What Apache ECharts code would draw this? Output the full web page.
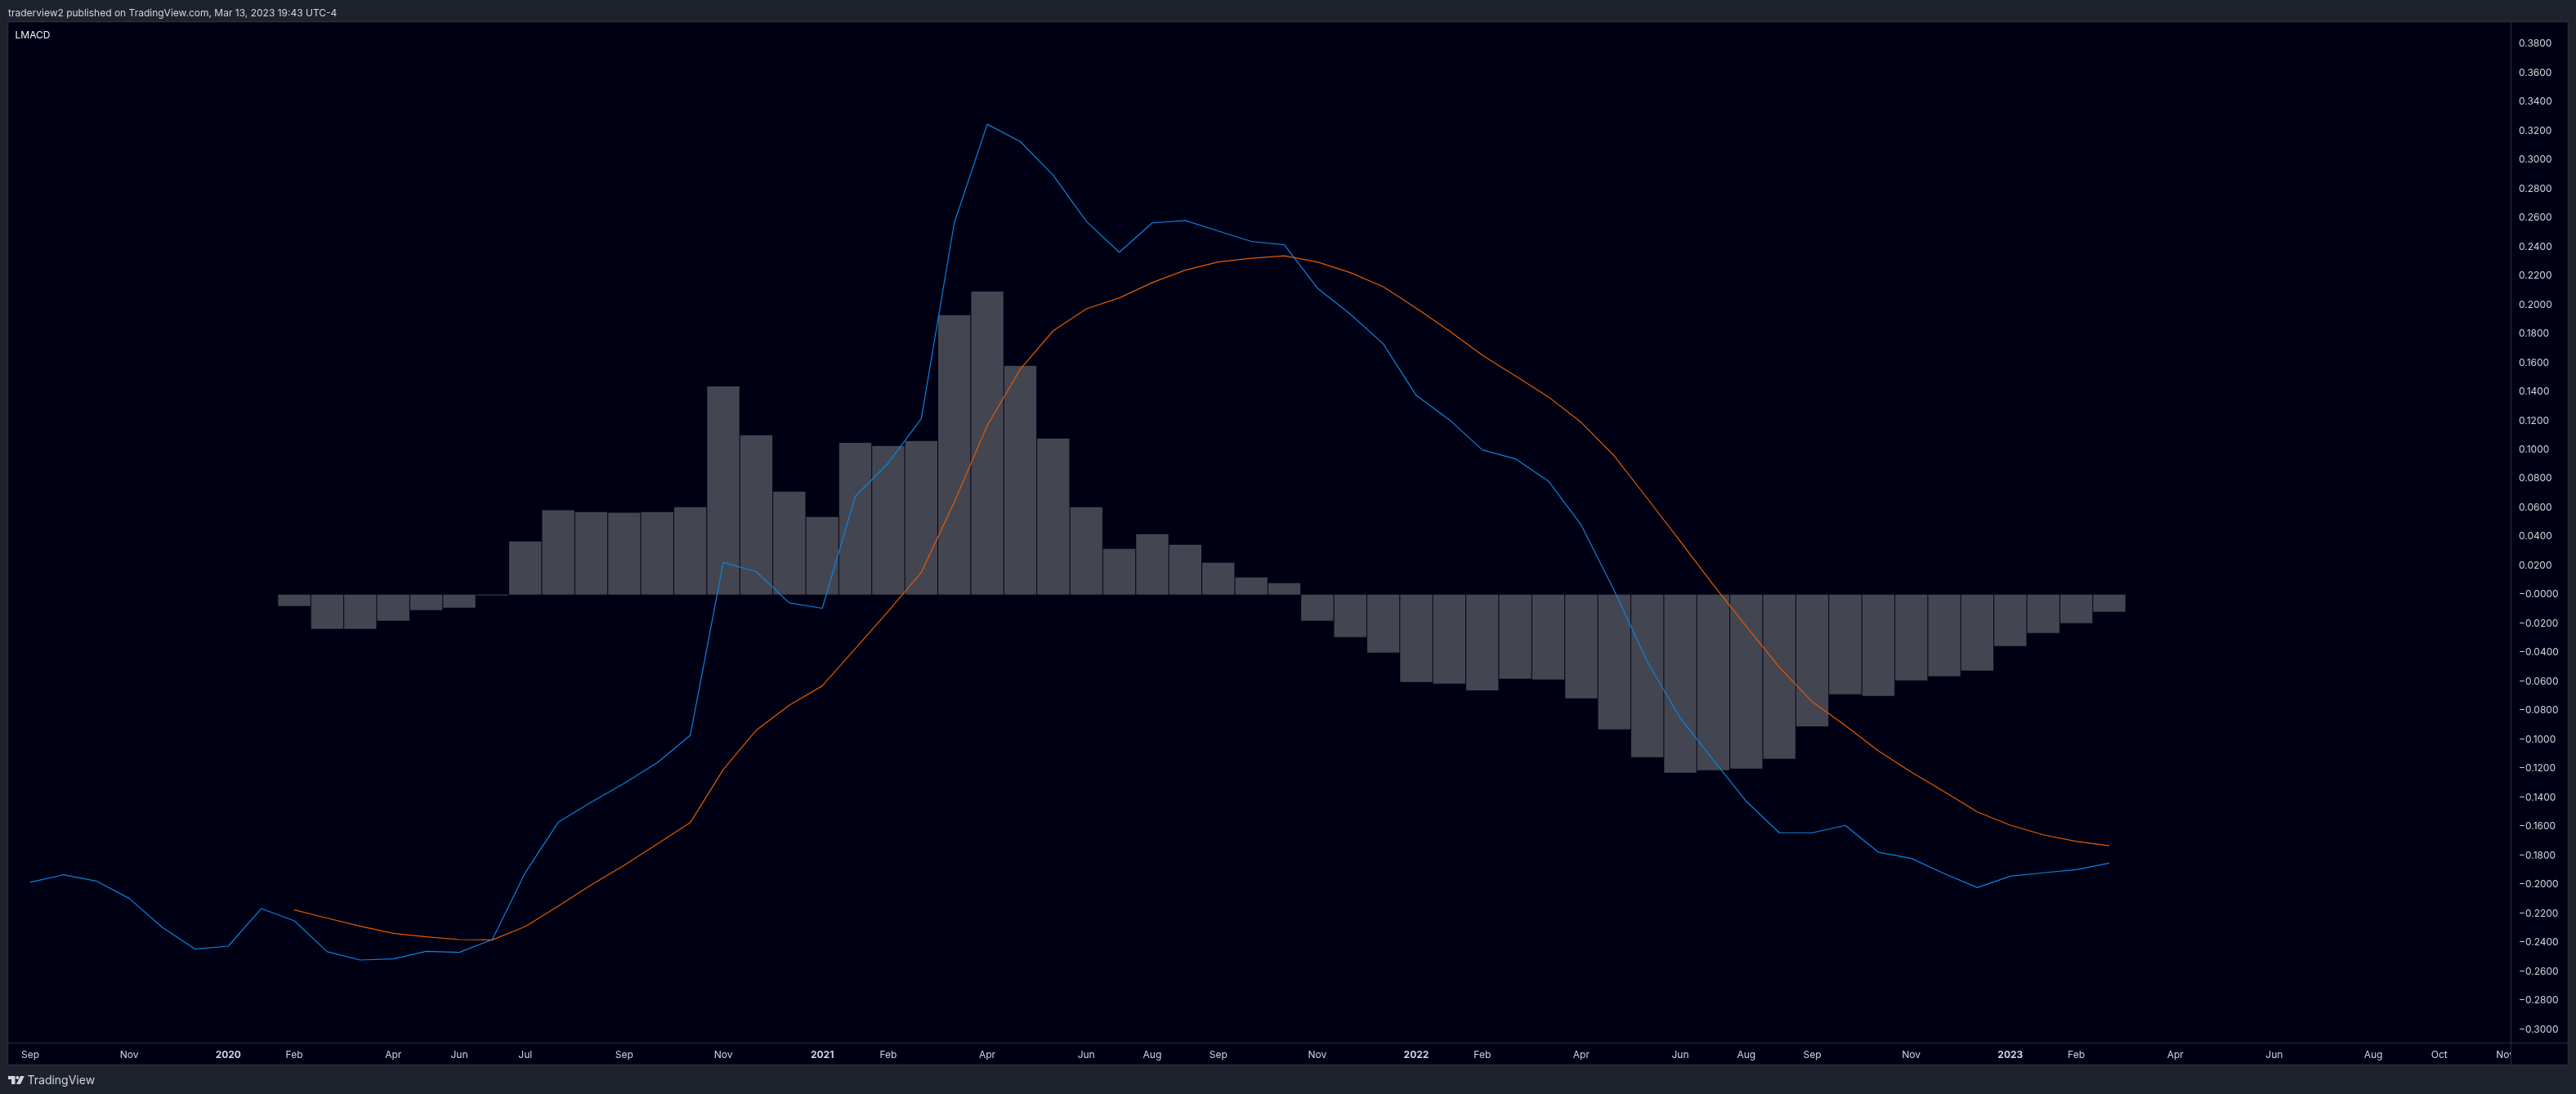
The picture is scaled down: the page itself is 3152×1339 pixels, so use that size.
<!DOCTYPE html>
<html><head><meta charset="utf-8">
<style>html,body{margin:0;padding:0;background:#1e222d}#c{width:3152px;height:1339px}</style>
<script src="https://cdn.jsdelivr.net/npm/echarts@6/dist/echarts.min.js"></script>
</head><body><div id="c"></div>
<script>
const macdLine = [-0.1985,-0.1933,-0.1976,-0.2096,-0.2295,-0.2446,-0.2425,-0.2166,-0.2250,-0.2464,-0.2521,-0.2513,-0.2461,-0.2468,-0.2380,-0.1918,-0.1570,-0.1431,-0.1302,-0.1160,-0.0971,0.0222,0.0158,-0.0057,-0.0094,0.0678,0.0908,0.1214,0.2565,0.3245,0.3126,0.2893,0.2576,0.2362,0.2565,0.2581,0.2509,0.2437,0.2414,0.2116,0.1935,0.1730,0.1374,0.1207,0.0999,0.0937,0.0784,0.0480,0.0027,-0.0462,-0.0852,-0.1140,-0.1426,-0.1643,-0.1643,-0.1592,-0.1777,-0.1820,-0.1925,-0.2021,-0.1942,-0.1919,-0.1897,-0.1852];
const signalLine = [null,null,null,null,null,null,null,null,-0.2175,-0.2232,-0.2288,-0.2337,-0.2361,-0.2380,-0.2382,-0.2290,-0.2149,-0.2002,-0.1867,-0.1720,-0.1573,-0.1207,-0.0935,-0.0764,-0.0629,-0.0373,-0.0114,0.0153,0.0639,0.1167,0.1555,0.1821,0.1972,0.2047,0.2153,0.2239,0.2295,0.2321,0.2338,0.2295,0.2222,0.2124,0.1976,0.1820,0.1652,0.1510,0.1365,0.1188,0.0957,0.0664,0.0368,0.0067,-0.0219,-0.0501,-0.0740,-0.0903,-0.1078,-0.1224,-0.1360,-0.1499,-0.1591,-0.1657,-0.1703,-0.1732];
const histogram = [null,null,null,null,null,null,null,null,-0.0079,-0.0237,-0.0237,-0.0180,-0.0107,-0.0090,-0.0005,0.0366,0.0582,0.0569,0.0565,0.0569,0.0604,0.1437,0.1100,0.0711,0.0536,0.1048,0.1026,0.1060,0.1928,0.2091,0.1578,0.1077,0.0603,0.0316,0.0417,0.0344,0.0220,0.0118,0.0079,-0.0180,-0.0293,-0.0400,-0.0603,-0.0614,-0.0660,-0.0581,-0.0586,-0.0716,-0.0930,-0.1122,-0.1229,-0.1212,-0.1201,-0.1133,-0.0908,-0.0688,-0.0699,-0.0592,-0.0564,-0.0524,-0.0355,-0.0265,-0.0197,-0.0118];
const xTickBars = [0,3,6,8,11,13,15,18,21,24,26,29,32,34,36,39,42,44,47,50,52,54,57,60,62,65,68,71,73,75];
const xTickLabels = ['Sep','Nov','2020','Feb','Apr','Jun','Jul','Sep','Nov','2021','Feb','Apr','Jun','Aug','Sep','Nov','2022','Feb','Apr','Jun','Aug','Sep','Nov','2023','Feb','Apr','Jun','Aug','Oct','Nov'];
const yTickLabels = ['0.3800','0.3600','0.3400','0.3200','0.3000','0.2800','0.2600','0.2400','0.2200','0.2000','0.1800','0.1600','0.1400','0.1200','0.1000','0.0800','0.0600','0.0400','0.0200','−0.0000','−0.0200','−0.0400','−0.0600','−0.0800','−0.1000','−0.1200','−0.1400','−0.1600','−0.1800','−0.2000','−0.2200','−0.2400','−0.2600','−0.2800','−0.3000'];
const yTickValues = yTickLabels.map(s => parseFloat(s.replace('−','-')));

const FONT = 'Inter, "Noto Sans", sans-serif';
const PANE = '#000014', FRAME = '#2a2e39', PAGE = '#1e222d', TEXT = '#d1d4dc';
const chart = echarts.init(document.getElementById('c'), null, {renderer:'canvas', width:3152, height:1339});
chart.setOption({
  animation:false,
  backgroundColor:PAGE,
  grid:{left:10,right:80,top:27,bottom:63,containLabel:false,show:false},
  xAxis:{
    type:'value', min:-0.669, max:75.16, splitLine:{show:false},
    axisLine:{onZero:false,lineStyle:{color:FRAME,width:1}}, axisTick:{show:false},
    axisLabel:{
      customValues:xTickBars, margin:9, showMinLabel:true, showMaxLabel:true, hideOverlap:false,
      formatter:v=>{const s=xTickLabels[xTickBars.indexOf(v)]; return /^\d{4}$/.test(s)?'{y|'+s+'}':s;},
      color:TEXT, fontFamily:FONT, fontSize:12,
      rich:{y:{fontWeight:'bold',color:TEXT,fontFamily:FONT,fontSize:12}}
    }
  },
  yAxis:{
    type:'value', position:'right', min:-0.30902, max:0.39504, splitLine:{show:false},
    axisLine:{show:true,onZero:false,lineStyle:{color:FRAME,width:1}}, axisTick:{show:false},
    axisLabel:{
      customValues:yTickValues, margin:10, align:'left',
      formatter:v=>yTickLabels[yTickValues.indexOf(v)],
      color:TEXT, fontFamily:FONT, fontSize:12
    }
  },
  series:[
    {type:'bar',name:'Histogram',barWidth:39.4,z:2,silent:true,
     itemStyle:{color:'#434651'},
     data:histogram.map((v,i)=>[i,v]).filter(d=>d[1]!==null)},
    {type:'line',name:'MACD',showSymbol:false,z:3,silent:true,
     lineStyle:{color:'#0a84e0',width:1.2},
     data:macdLine.map((v,i)=>[i,v])},
    {type:'line',name:'Signal',showSymbol:false,z:4,silent:true,
     lineStyle:{color:'#e65a00',width:1.2},
     data:signalLine.map((v,i)=>[i,v])}
  ],
  graphic:[
    {type:'rect',z:-5,silent:true,shape:{x:9.5,y:26.5,width:3133,height:1277},style:{fill:PANE,stroke:FRAME,lineWidth:1.5}},
    {type:'rect',z:20,silent:true,shape:{x:3072.5,y:1277,width:69,height:25.5},style:{fill:PANE}},
    {type:'line',z:21,silent:true,shape:{x1:3072.5,y1:1276,x2:3072.5,y2:1303},style:{stroke:FRAME,lineWidth:1}},
    {type:'line',z:21,silent:true,shape:{x1:3072,y1:1276.5,x2:3142,y2:1276.5},style:{stroke:FRAME,lineWidth:1}},
    {type:'text',z:21,silent:true,x:10,y:16,style:{text:'traderview2 published on TradingView.com, Mar 13, 2023 19:43 UTC-4',fill:TEXT,font:'12px '+FONT,textVerticalAlign:'middle'}},
    {type:'text',z:21,silent:true,x:18.5,y:43,style:{text:'LMACD',fill:'#f0f3fa',font:'12px '+FONT,textVerticalAlign:'middle'}},
    {type:'text',z:21,silent:true,x:33.5,y:1323,style:{text:'TradingView',fill:TEXT,font:'14px '+FONT,textVerticalAlign:'middle'}},
    {type:'polygon',z:21,silent:true,shape:{points:[[10,1317],[18.5,1317],[18.5,1327],[14,1327],[14,1321],[10,1321]]},style:{fill:TEXT}},
    {type:'circle',z:21,silent:true,shape:{cx:21.3,cy:1319,r:2},style:{fill:TEXT}},
    {type:'polygon',z:21,silent:true,shape:{points:[[25,1317],[29.7,1317],[25,1327],[20,1327]]},style:{fill:TEXT}}
  ]
});
</script></body></html>
